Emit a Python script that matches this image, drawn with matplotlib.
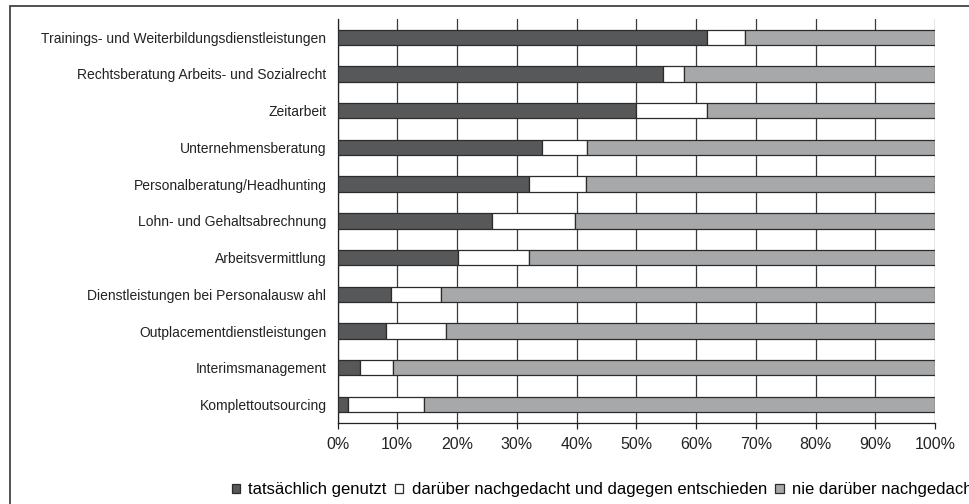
import numpy as np
import matplotlib
matplotlib.use('Agg')
import matplotlib.pyplot as plt
from matplotlib.patches import Rectangle

plt.rcParams['font.family'] = ['Liberation Sans', 'DejaVu Sans']

# Daten (Anteile in %)
kategorien = [
    'Trainings- und Weiterbildungsdienstleistungen',
    'Rechtsberatung Arbeits- und Sozialrecht',
    'Zeitarbeit',
    'Unternehmensberatung',
    'Personalberatung/Headhunting',
    'Lohn- und Gehaltsabrechnung',
    'Arbeitsvermittlung',
    'Dienstleistungen bei Personalausw ahl',
    'Outplacementdienstleistungen',
    'Interimsmanagement',
    'Komplettoutsourcing',
]
genutzt = [61.8, 54.4, 50.0, 34.2, 32.1, 25.9, 20.1, 8.9, 8.1, 3.7, 1.8]
dagegen = [6.4, 3.6, 11.8, 7.6, 9.4, 13.8, 11.9, 8.4, 10.1, 5.5, 12.7]
nie = [100 - a - b for a, b in zip(genutzt, dagegen)]

serien = ['tatsächlich genutzt', 'darüber nachgedacht und dagegen entschieden',
          'nie darüber nachgedacht']
farben = ['#57585a', '#ffffff', '#a7a8aa']

fig = plt.figure(figsize=(9.7, 5.04), dpi=100)
ax = fig.add_axes([0.348, 0.161, 0.616, 0.8015])

y = np.arange(len(kategorien))
links = np.zeros(len(kategorien))
for werte, name, farbe in zip([genutzt, dagegen, nie], serien, farben):
    ax.barh(y, werte, left=links, height=0.42, color=farbe, edgecolor='#2b2b2b',
            linewidth=0.9, label=name, zorder=3)
    links += np.array(werte)

ax.set_xlim(0, 100)
ax.set_ylim(len(kategorien) - 0.5, -0.5)
ax.set_xticks(np.arange(0, 101, 10))
ax.set_xticklabels([f'{v}%' for v in range(0, 101, 10)])
ax.set_yticks(y)
ax.set_yticklabels(kategorien)
ax.xaxis.grid(True, color='#3a3a3a', linewidth=0.9, zorder=0)
ax.tick_params(axis='y', length=0, pad=8, labelsize=10, colors='#222222')
ax.tick_params(axis='x', length=4, width=0.9, direction='out', pad=6,
               labelsize=11.5, colors='#222222')
for s in ['top', 'right']:
    ax.spines[s].set_visible(False)
for s in ['left', 'bottom']:
    ax.spines[s].set_color('#222222')
    ax.spines[s].set_linewidth(0.9)

fig.legend(loc='center left', bbox_to_anchor=(0.232, 0.028), ncol=3,
           frameon=False, fontsize=12, handlelength=0.5, handleheight=0.5,
           handletextpad=0.5, columnspacing=0.5, borderaxespad=0)

# Rahmen um das Diagramm
fig.patches.append(Rectangle((10 / 970, -0.1), 1.2, 1.1 - 6 / 504,
                             transform=fig.transFigure, fill=False,
                             edgecolor='#333333', linewidth=1.2))

fig.savefig('out.png', dpi=100)
